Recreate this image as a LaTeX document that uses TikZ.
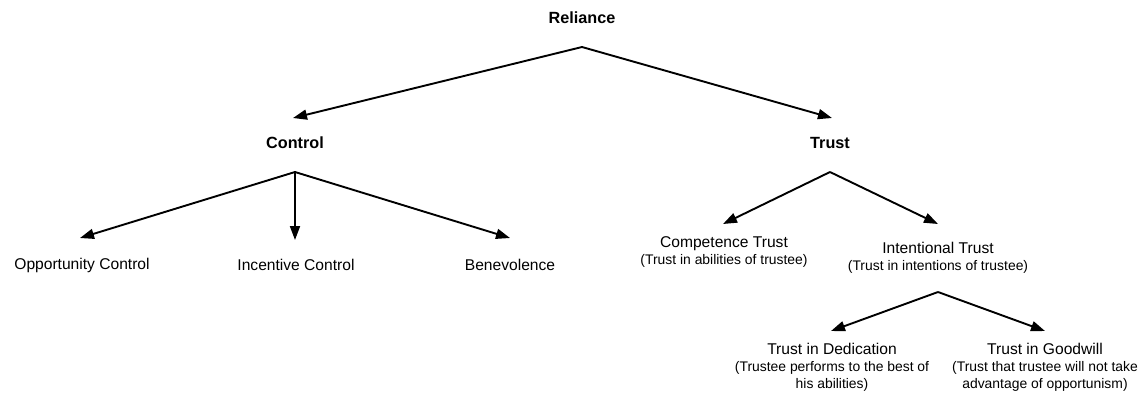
\documentclass[tikz,border=0pt]{standalone}
\usepackage{fontspec}
\setmainfont{Liberation Sans}
\usetikzlibrary{arrows.meta}

\newcommand{\subtxt}[1]{{\fontsize{13.9}{15.5}\selectfont #1}}

\begin{document}
\begin{tikzpicture}[x=1pt, y=-1pt, ->, >={Triangle[length=14pt, width=10pt]}, line width=1.9pt,
  head/.style={font=\fontsize{16.2}{18}\selectfont\bfseries},
  leaf/.style={font=\fontsize{15.6}{17}\selectfont, align=center, inner sep=0pt}]

  \useasboundingbox (0,0) rectangle (1141,392);

  % labels
  \node[head] (rel) at (582,18) {Reliance};
  \node[head] (ctl) at (295,143) {Control};
  \node[head] (tru) at (830,143) {Trust};
  \node[leaf] (opp) at (82,265) {Opportunity Control};
  \node[leaf] (inc) at (296,265) {Incentive Control};
  \node[leaf] (ben) at (510,265) {Benevolence};
  \node[leaf] (cmp) at (724,252) {Competence Trust\\\subtxt{(Trust in abilities of trustee)}};
  \node[leaf] (int) at (938,258) {Intentional Trust\\\subtxt{(Trust in intentions of trustee)}};
  \node[leaf] (ded) at (832,367) {Trust in Dedication\\\subtxt{(Trustee performs to the best of}\\\subtxt{his abilities)}};
  \node[leaf] (gwl) at (1045,367) {Trust in Goodwill\\\subtxt{(Trust that trustee will not take}\\\subtxt{advantage of opportunism)}};

  % branch points and arrow ends
  \coordinate (relB) at (582,47);
  \coordinate (ctlB) at (295,172);
  \coordinate (truB) at (830,172);
  \coordinate (intB) at (938,292);
  \coordinate (ctlT) at (293,118);
  \coordinate (truT) at (832,118);
  \coordinate (oppT) at (80,238);
  \coordinate (incT) at (295,240);
  \coordinate (benT) at (510,238);
  \coordinate (cmpT) at (723,224);
  \coordinate (intT) at (938,224);
  \coordinate (dedT) at (831,331);
  \coordinate (gwlT) at (1045,331);

  \path (relB) edge (ctlT)
               edge (truT)
        (ctlB) edge (oppT)
               edge (incT)
               edge (benT)
        (truB) edge (cmpT)
               edge (intT)
        (intB) edge (dedT)
               edge (gwlT);

\end{tikzpicture}
\end{document}
